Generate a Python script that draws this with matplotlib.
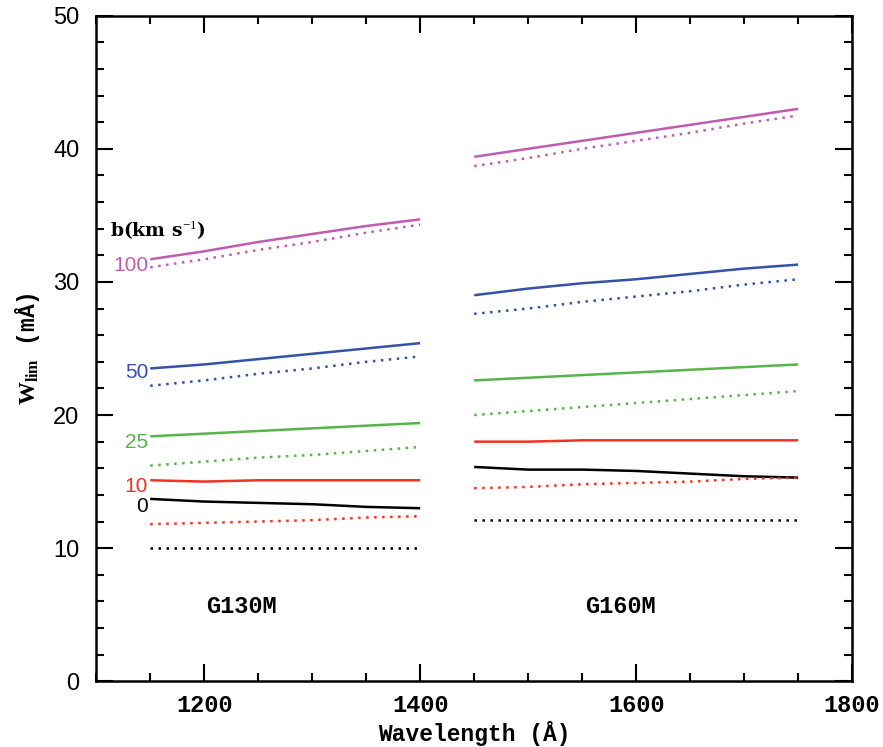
import matplotlib
matplotlib.use("Agg")
import matplotlib.pyplot as plt
from matplotlib.ticker import MultipleLocator

plt.rcParams["mathtext.fontset"] = "custom"
plt.rcParams["mathtext.bf"] = "Liberation Serif:bold"
plt.rcParams["mathtext.rm"] = "Liberation Serif"

# Wavelength grids
wl_g130 = [1150, 1200, 1250, 1300, 1350, 1400]
wl_g160 = [1450, 1500, 1550, 1600, 1650, 1700, 1750]

b_values = ["0", "10", "25", "50", "100"]
colors = ["#000000", "#EE3322", "#55B548", "#3352A8", "#C05BB0"]

# G130M solid / dotted (per b value)
g130_solid = {
    "0":   [13.7, 13.5, 13.4, 13.3, 13.1, 13.0],
    "10":  [15.1, 15.0, 15.1, 15.1, 15.1, 15.1],
    "25":  [18.4, 18.6, 18.8, 19.0, 19.2, 19.4],
    "50":  [23.5, 23.8, 24.2, 24.6, 25.0, 25.4],
    "100": [31.7, 32.3, 33.0, 33.6, 34.2, 34.7],
}
g130_dotted = {
    "0":   [10.0, 10.0, 10.0, 10.0, 10.0, 10.0],
    "10":  [11.8, 11.9, 12.0, 12.1, 12.3, 12.4],
    "25":  [16.2, 16.5, 16.8, 17.0, 17.3, 17.6],
    "50":  [22.2, 22.6, 23.1, 23.5, 24.0, 24.4],
    "100": [31.1, 31.7, 32.4, 33.0, 33.7, 34.3],
}
g160_solid = {
    "0":   [16.1, 15.9, 15.9, 15.8, 15.6, 15.4, 15.3],
    "10":  [18.0, 18.0, 18.1, 18.1, 18.1, 18.1, 18.1],
    "25":  [22.6, 22.8, 23.0, 23.2, 23.4, 23.6, 23.8],
    "50":  [29.0, 29.5, 29.9, 30.2, 30.6, 31.0, 31.3],
    "100": [39.4, 40.0, 40.6, 41.2, 41.8, 42.4, 43.0],
}
g160_dotted = {
    "0":   [12.1, 12.1, 12.1, 12.1, 12.1, 12.1, 12.1],
    "10":  [14.5, 14.6, 14.8, 14.9, 15.0, 15.2, 15.3],
    "25":  [20.0, 20.3, 20.6, 20.9, 21.2, 21.5, 21.8],
    "50":  [27.6, 28.0, 28.5, 28.9, 29.3, 29.8, 30.2],
    "100": [38.7, 39.3, 40.0, 40.6, 41.2, 41.9, 42.5],
}

# Label positions for b values (y in data units, at left of G130M lines)
label_y = {"0": 13.1, "10": 14.6, "25": 17.9, "50": 23.2, "100": 31.2}

fig = plt.figure(figsize=(8.83, 7.47), dpi=100)
ax = fig.add_axes([0.109, 0.088, 0.856, 0.891])

for b, c in zip(b_values, colors):
    ax.plot(wl_g130, g130_solid[b], color=c, lw=1.8, solid_capstyle="butt")
    ax.plot(wl_g130, g130_dotted[b], color=c, lw=1.8, linestyle=(0, (1, 2.2)))
    ax.plot(wl_g160, g160_solid[b], color=c, lw=1.8, solid_capstyle="butt")
    ax.plot(wl_g160, g160_dotted[b], color=c, lw=1.8, linestyle=(0, (1, 2.2)))
    ax.text(1148, label_y[b], b, color=c, ha="right", va="center",
            fontsize=15, family="Liberation Sans")

ax.text(1113, 33.9, r"b(km s$^{-1}$)", fontsize=13.5, fontweight="bold",
        family="DejaVu Serif", ha="left", va="center")

mono = "Liberation Mono"
ax.text(1234, 5.6, "G130M", fontsize=17, fontweight="bold", family=mono, ha="center", va="center")
ax.text(1585, 5.6, "G160M", fontsize=17, fontweight="bold", family=mono, ha="center", va="center")

ax.set_xlim(1100, 1800)
ax.set_ylim(0, 50)
ax.xaxis.set_major_locator(MultipleLocator(200))
ax.xaxis.set_minor_locator(MultipleLocator(50))
ax.yaxis.set_major_locator(MultipleLocator(10))
ax.yaxis.set_minor_locator(MultipleLocator(2))
ax.tick_params(which="both", direction="in", top=True, right=True, width=1.5)
ax.tick_params(which="major", length=12)
ax.tick_params(which="minor", length=6)
for sp in ax.spines.values():
    sp.set_linewidth(1.8)

for lab in ax.get_xticklabels():
    lab.set_family(mono)
    lab.set_fontsize(17)
    lab.set_fontweight("bold")
for lab in ax.get_yticklabels():
    lab.set_family("Liberation Sans")
    lab.set_fontsize(17)
ax.tick_params(axis="x", pad=9)
ax.tick_params(axis="y", pad=12)

ax.set_xlabel("Wavelength (Å)", family=mono, fontsize=16.5, fontweight="bold", labelpad=3)
ax.set_ylabel(r"$\mathbf{W_{lim}}$ (mÅ)", family=mono, fontsize=16.5, fontweight="bold", labelpad=8)

fig.savefig("out.png", dpi=100)
